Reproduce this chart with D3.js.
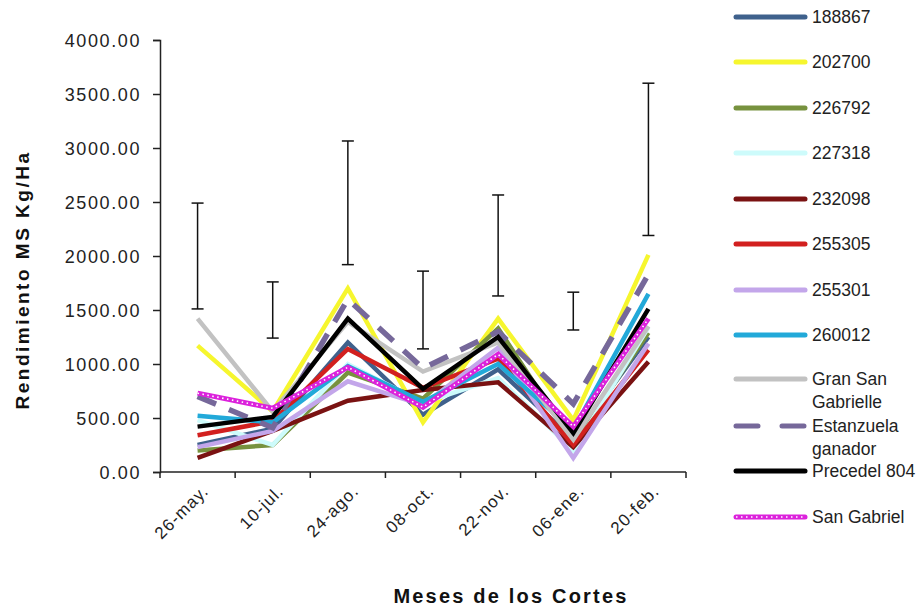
<!DOCTYPE html>
<html>
<head>
<meta charset="utf-8">
<script src="https://cdn.jsdelivr.net/npm/d3@7"></script>
<style>
  html, body { margin: 0; padding: 0; background: #fff; }
  svg { display: block; font-family: "Liberation Sans", Arial, sans-serif; }
</style>
</head>
<body>
<svg id="chart" width="922" height="608"></svg>
<script>
// Cutting dates (x categories)
const cortes = ["26-may.", "10-jul.", "24-ago.", "08-oct.", "22-nov.", "06-ene.", "20-feb."];

// Dry-matter yield per cultivar, kg/ha
const s188867   = [250, 400, 1200, 530, 950, 300, 1250];
const s202700   = [1170, 560, 1700, 460, 1420, 480, 2010];
const s226792   = [200, 250, 920, 680, 1330, 270, 1290];
const s227318   = [480, 250, 1000, 640, 870, 200, 1340];
const s232098   = [130, 380, 660, 760, 830, 230, 1020];
const s255305   = [340, 470, 1140, 780, 1050, 250, 1130];
const s255301   = [230, 380, 840, 620, 1150, 130, 1190];
const s260012   = [520, 460, 980, 650, 1000, 390, 1650];
const sGranSan  = [1420, 560, 1390, 930, 1200, 300, 1350];
const sEstanz   = [700, 410, 1600, 960, 1300, 630, 1830];
const sPrecedel = [420, 510, 1420, 770, 1250, 360, 1510];
const sSanGab   = [730, 590, 970, 600, 1090, 420, 1420];

// Error bar extents per cutting date
const errLow  = [1510, 1240, 1920, 1140, 1630, 1315, 2190];
const errHigh = [2490, 1760, 3065, 1860, 2565, 1665, 3600];

const yTicks = [0, 500, 1000, 1500, 2000, 2500, 3000, 3500, 4000];

const series = [
  { name: ["188867"], values: s188867, color: "#3f618c", width: 4.5 },
  { name: ["202700"], values: s202700, color: "#f6f62e", width: 4.5 },
  { name: ["226792"], values: s226792, color: "#77923e", width: 4.5 },
  { name: ["227318"], values: s227318, color: "#cdfbfb", width: 4.5 },
  { name: ["232098"], values: s232098, color: "#7a1212", width: 4.5 },
  { name: ["255305"], values: s255305, color: "#d2201f", width: 4.5 },
  { name: ["255301"], values: s255301, color: "#c3a6ea", width: 4.5 },
  { name: ["260012"], values: s260012, color: "#22a9d9", width: 4.5 },
  { name: ["Gran San", "Gabrielle"], values: sGranSan, color: "#c2c2c2", width: 4.5 },
  { name: ["Estanzuela", "ganador"], values: sEstanz, color: "#76689a", width: 5.5, dash: "20,14" },
  { name: ["Precedel 804"], values: sPrecedel, color: "#000000", width: 4.5 },
  { name: ["San Gabriel"], values: sSanGab, color: "#dc22dc", width: 5, dots: true }
];

const svg = d3.select("#chart");
const plotL = 160, plotR = 686, plotT = 40, plotB = 472;

const x = d3.scaleBand().domain(cortes).range([plotL, plotR]);
const y = d3.scaleLinear().domain([0, 4000]).range([plotB, plotT]);
const cx = d => x(d) + x.bandwidth() / 2;

// Y axis
const yAxis = svg.append("g")
  .attr("transform", `translate(${plotL},0)`)
  .call(d3.axisLeft(y).tickValues(yTicks).tickFormat(d3.format(".2f")).tickSize(7).tickPadding(12));
yAxis.select(".domain").attr("stroke", "#222").attr("stroke-width", 1.5);
yAxis.selectAll(".tick line").attr("stroke", "#222").attr("stroke-width", 1.5);
yAxis.selectAll(".tick text").attr("font-size", 18).attr("letter-spacing", 1.6)
  .attr("fill", "#222").attr("dy", "0.35em");

// X axis (ticks at band edges)
const xg = svg.append("g").attr("transform", `translate(0,${plotB})`);
xg.append("line").attr("x1", plotL).attr("x2", plotR).attr("y1", 0).attr("y2", 0)
  .attr("stroke", "#222").attr("stroke-width", 1.5);
const edges = cortes.map(c => x(c)).concat([plotR]);
xg.selectAll("line.edge").data(edges).join("line").attr("class", "edge")
  .attr("x1", d => d).attr("x2", d => d).attr("y1", 0).attr("y2", 6)
  .attr("stroke", "#222").attr("stroke-width", 1.5);
xg.selectAll("text.cat").data(cortes).join("text").attr("class", "cat")
  .attr("transform", d => `translate(${cx(d) + 12},${20}) rotate(-45)`)
  .attr("text-anchor", "end")
  .attr("font-size", 17).attr("letter-spacing", 1.1).attr("fill", "#222")
  .text(d => d);

// Axis titles
svg.append("text")
  .attr("transform", `translate(29,280) rotate(-90)`)
  .attr("text-anchor", "middle").attr("font-size", 19).attr("letter-spacing", 2.5)
  .attr("font-weight", "bold").attr("fill", "#111")
  .text("Rendimiento MS Kg/Ha");
svg.append("text")
  .attr("x", 511).attr("y", 603)
  .attr("text-anchor", "middle").attr("font-size", 20).attr("letter-spacing", 2.2)
  .attr("font-weight", "bold").attr("fill", "#111")
  .text("Meses de los Cortes");

// Error bars
const eb = svg.append("g").attr("stroke", "#111").attr("stroke-width", 1.5);
cortes.forEach((c, i) => {
  const xc = cx(c);
  eb.append("line").attr("x1", xc).attr("x2", xc).attr("y1", y(errLow[i])).attr("y2", y(errHigh[i]));
  eb.append("line").attr("x1", xc - 6).attr("x2", xc + 6).attr("y1", y(errLow[i])).attr("y2", y(errLow[i]));
  eb.append("line").attr("x1", xc - 6).attr("x2", xc + 6).attr("y1", y(errHigh[i])).attr("y2", y(errHigh[i]));
});

// Series lines
const line = d3.line().x((d, i) => cx(cortes[i])).y(d => y(d));
const lines = svg.append("g").attr("fill", "none");
series.forEach(s => {
  lines.append("path").attr("d", line(s.values))
    .attr("stroke", s.color).attr("stroke-width", s.width)
    .attr("stroke-dasharray", s.dash || null)
    .attr("stroke-linejoin", "miter");
  if (s.dots) {
    lines.append("path").attr("d", line(s.values))
      .attr("stroke", "#fff").attr("stroke-width", 1.6)
      .attr("stroke-dasharray", "1.5,3.5");
  }
});

// Legend
const legendRows = [17, 62, 108, 153, 199, 244, 290, 335, 379, 426, 471, 517];
const lg = svg.append("g");
series.forEach((s, i) => {
  const ly = legendRows[i];
  lg.append("line").attr("x1", 736).attr("x2", 805).attr("y1", ly).attr("y2", ly)
    .attr("stroke", s.color).attr("stroke-width", 5)
    .attr("stroke-linecap", "round")
    .attr("stroke-dasharray", s.dash ? "22,24" : null);
  if (s.dots) {
    lg.append("line").attr("x1", 736).attr("x2", 805).attr("y1", ly).attr("y2", ly)
      .attr("stroke", "#fff").attr("stroke-width", 1.6).attr("stroke-dasharray", "1.5,3.5");
  }
  const t = lg.append("text").attr("x", 812).attr("y", ly + 6)
    .attr("font-size", 17.5).attr("fill", "#222");
  s.name.forEach((n, k) => {
    t.append("tspan").attr("x", 812).attr("dy", k === 0 ? 0 : 23).text(n);
  });
});
</script>
</body>
</html>
